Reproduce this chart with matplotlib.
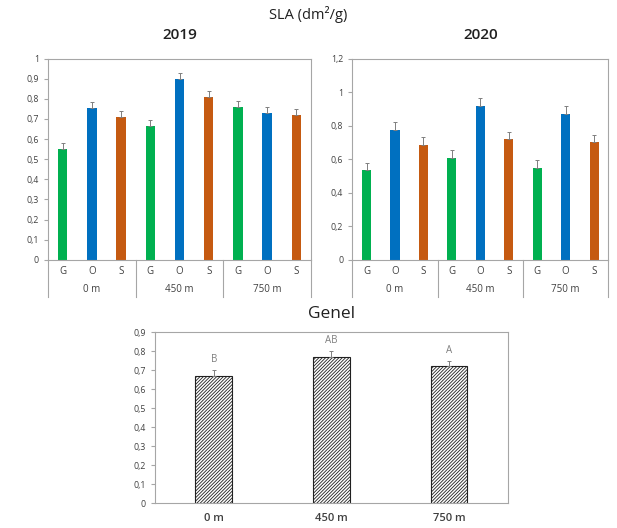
import numpy as np
import matplotlib.pyplot as plt

plt.rcParams['font.family'] = ['Open Sans', 'DejaVu Sans']
plt.rcParams['hatch.linewidth'] = 0.6

groups = ['0 m', '450 m', '750 m']
species = ['G', 'O', 'S']
colors = ['#00B050', '#0070C0', '#C55A11']

# 2019 values per group (G, O, S)
sla_2019 = [[0.55, 0.755, 0.71], [0.665, 0.90, 0.81], [0.76, 0.73, 0.72]]
err_2019 = [[0.03, 0.03, 0.03], [0.03, 0.03, 0.03], [0.03, 0.03, 0.03]]
sla_2020 = [[0.535, 0.775, 0.685], [0.61, 0.92, 0.72], [0.55, 0.87, 0.70]]
err_2020 = [[0.045, 0.045, 0.045], [0.045, 0.045, 0.045], [0.045, 0.045, 0.045]]
genel = [0.67, 0.77, 0.72]
genel_err = [0.03, 0.03, 0.03]
genel_letters = ['B', 'AB', 'A']

txt = '#404040'
frame = '#A6A6A6'

fig = plt.figure(figsize=(6.17, 5.28), dpi=100)


def style(ax):
    for s in ax.spines.values():
        s.set_color(frame)
        s.set_linewidth(0.8)
    ax.tick_params(axis='y', colors=frame, labelcolor=txt, labelsize=6.3,
                   length=3, width=0.8, direction='out')


def fmt(v):
    return ('%g' % round(v, 2)).replace('.', ',')


def panel(rect, vals, errs, ymax, step, title):
    ax = fig.add_axes(rect)
    style(ax)
    x = np.arange(9)
    i = 0
    for g in range(3):
        for s in range(3):
            ax.bar(x[i], vals[g][s], width=0.32, color=colors[s],
                   yerr=[[0], [errs[g][s]]], capsize=1.5,
                   error_kw=dict(ecolor='#7F7F7F', elinewidth=0.7, capthick=0.7))
            i += 1
    ax.set_xlim(-0.5, 8.5)
    ax.set_ylim(0, ymax)
    ticks = np.arange(0, ymax + 1e-9, step)
    ax.set_yticks(ticks)
    ax.set_yticklabels([fmt(t) for t in ticks])
    ax.set_xticks([])
    # hierarchical category axis
    for i in range(9):
        ax.text(x[i], -0.06, species[i % 3], transform=ax.get_xaxis_transform(),
                ha='center', va='center', fontsize=7, color=txt)
    for g in range(3):
        ax.text(3 * g + 1, -0.15, groups[g], transform=ax.get_xaxis_transform(),
                ha='center', va='center', fontsize=7, color=txt)
    for b in [-0.5, 2.5, 5.5, 8.5]:
        ax.plot([b, b], [0, -0.185], transform=ax.get_xaxis_transform(),
                color=frame, lw=0.8, clip_on=False)
    ax.set_title(title, fontsize=11, color='#202020', fontweight='semibold', pad=14)
    return ax


panel([0.078, 0.508, 0.426, 0.381], sla_2019, err_2019, 1.0, 0.1, '2019')
panel([0.571, 0.508, 0.415, 0.381], sla_2020, err_2020, 1.2, 0.2, '2020')

fig.text(0.50, 0.972, 'SLA (dm²/g)', ha='center', va='center', fontsize=10.5,
         color='#202020')

ax3 = fig.add_axes([0.251, 0.047, 0.572, 0.324])
style(ax3)
xg = np.arange(3)
ax3.bar(xg, genel, width=0.31, color='white', edgecolor='#202020', hatch='//////////',
        linewidth=0.8, yerr=[[0, 0, 0], genel_err], capsize=1.5,
        error_kw=dict(ecolor='#7F7F7F', elinewidth=0.7, capthick=0.7))
for i in range(3):
    ax3.text(xg[i], genel[i] + genel_err[i] + 0.025, genel_letters[i],
             ha='center', va='bottom', fontsize=7, color='#7F7F7F')
ax3.set_xlim(-0.5, 2.5)
ax3.set_ylim(0, 0.9)
yt = np.arange(0, 0.9 + 1e-9, 0.1)
ax3.set_yticks(yt)
ax3.set_yticklabels([fmt(t) for t in yt])
ax3.set_xticks(xg)
ax3.set_xticklabels(groups, fontsize=8, color=txt, fontweight='semibold')
ax3.tick_params(axis='x', length=0, pad=7)
ax3.set_title('Genel', fontsize=12.5, color='#202020', pad=10)

fig.savefig('out.png', dpi=100)
